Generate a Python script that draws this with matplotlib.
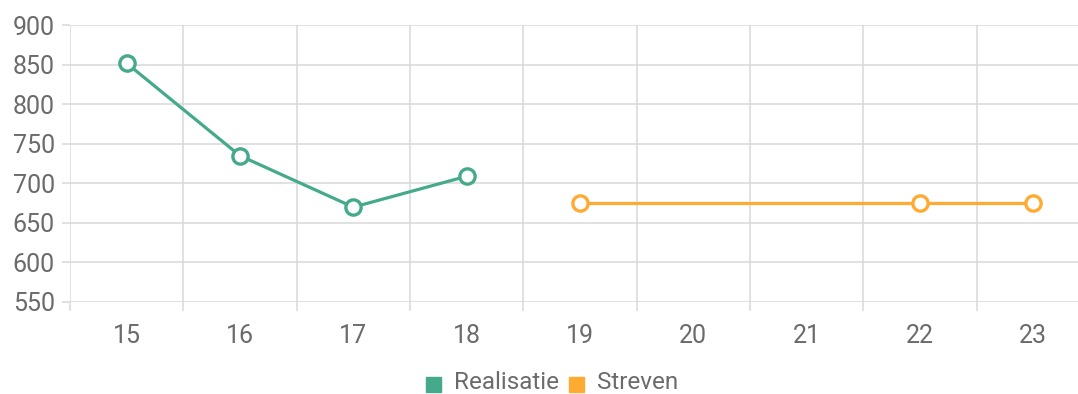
import matplotlib
matplotlib.use("Agg")
import matplotlib.pyplot as plt
from matplotlib.patches import Rectangle
import numpy as np

plt.rcParams['font.family'] = ['Roboto', 'DejaVu Sans']

categories = ["15", "16", "17", "18", "19", "20", "21", "22", "23"]
realisatie = [852, 735, 670, 709, None, None, None, None, None]
streven = [None, None, None, None, 675, None, None, 675, 675]

green = "#45aa8b"
orange = "#ffab33"
grid_c = "#d9d9d9"
text_c = "#6b6b6b"
fs = 18

W, H = 1078, 394
fig = plt.figure(figsize=(W / 100, H / 100), dpi=100)
ax = fig.add_axes([70 / W, 1 - 302 / H, 1020 / W, (302 - 25.3) / H])

x = np.arange(len(categories))

def series(vals):
    xs = [i for i, v in zip(x, vals) if v is not None]
    ys = [v for v in vals if v is not None]
    return xs, ys

for vals, col in [(realisatie, green), (streven, orange)]:
    xs, ys = series(vals)
    ax.plot(xs, ys, color=col, lw=2.3, marker="o", ms=11, mfc="white",
            mec=col, mew=2.4, zorder=3, solid_capstyle="round")

ax.set_xlim(-0.5, len(categories) - 0.5)
ax.set_ylim(550, 900)
ax.set_yticks(np.arange(550, 901, 50))
ax.set_xticks(x)
ax.set_xticklabels(categories)
ax.set_xticks(np.arange(-0.5, len(categories), 1), minor=True)

for s in ax.spines.values():
    s.set_visible(False)

ax.grid(True, axis="y", which="major", color=grid_c, lw=1.1)
ax.grid(True, axis="x", which="minor", color=grid_c, lw=1.1)
ax.grid(False, axis="x", which="major")
ax.tick_params(axis="y", which="major", length=6, color=grid_c, width=1.1,
               labelsize=fs, labelcolor=text_c, pad=5)
ax.tick_params(axis="x", which="major", length=0, labelsize=fs,
               labelcolor=text_c, pad=16)
ax.tick_params(axis="x", which="minor", length=6.5, color=grid_c, width=1.1)
ax.set_axisbelow(True)

# legend row
sq_y = 1 - 384 / H
base_y = 1 - 389 / H
for px, label, col in [(433, "Realisatie", green), (576, "Streven", orange)]:
    fig.patches.append(Rectangle(((px - 7.5) / W, sq_y - 7.5 / H), 15 / W, 15 / H,
                                 transform=fig.transFigure, color=col))
    fig.text((px + 21) / W, base_y, label, color=text_c, fontsize=17.5,
             va="baseline", ha="left")

fig.savefig("out.png", dpi=100)
